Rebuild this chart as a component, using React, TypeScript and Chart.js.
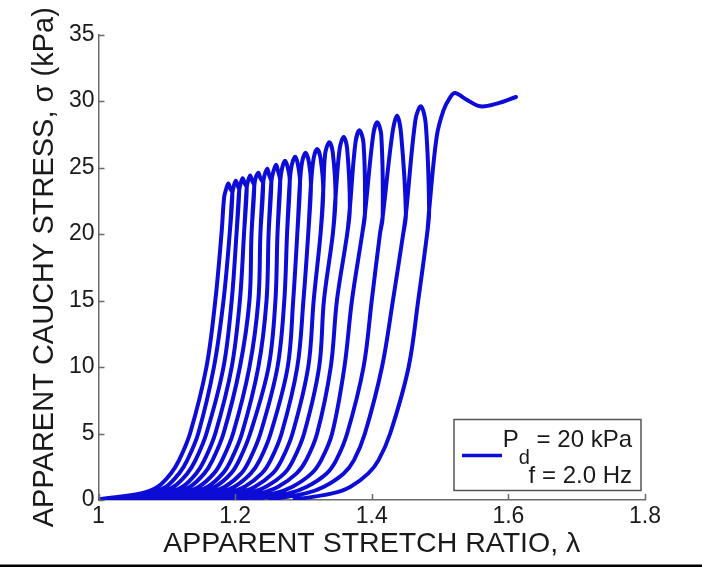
import React, { useEffect, useRef } from 'react';
import { Chart, registerables } from 'chart.js';

Chart.register(...registerables);

// ---------- data ----------
// stress levels (kPa) at which every loading / unloading branch was read
const STRESS_LEVELS = [0.05, 0.5, 1, 2, 3, 5, 10, 15, 20];

// stretch ratio of each of the 18 branches at those stress levels
const LINE_X_FOOT = [1.000, 1.016, 1.027, 1.040, 1.052, 1.066, 1.078, 1.090, 1.104, 1.119, 1.134, 1.149, 1.166, 1.184, 1.205, 1.226, 1.251, 1.287];
const LINE_X_S05 = [1.062, 1.073, 1.085, 1.097, 1.108, 1.121, 1.133, 1.144, 1.158, 1.172, 1.187, 1.202, 1.218, 1.236, 1.257, 1.278, 1.303, 1.342];
const LINE_X_S1 = [1.087, 1.099, 1.110, 1.123, 1.134, 1.147, 1.160, 1.171, 1.185, 1.199, 1.214, 1.229, 1.245, 1.263, 1.284, 1.305, 1.330, 1.369];
const LINE_X_S2 = [1.106, 1.118, 1.130, 1.143, 1.155, 1.169, 1.182, 1.194, 1.209, 1.223, 1.239, 1.255, 1.272, 1.290, 1.312, 1.334, 1.359, 1.395];
const LINE_X_S3 = [1.118, 1.130, 1.142, 1.155, 1.167, 1.181, 1.194, 1.206, 1.221, 1.236, 1.252, 1.268, 1.285, 1.304, 1.326, 1.348, 1.374, 1.410];
const LINE_X_S5 = [1.134, 1.146, 1.158, 1.171, 1.183, 1.197, 1.210, 1.222, 1.237, 1.252, 1.268, 1.284, 1.301, 1.320, 1.342, 1.364, 1.390, 1.427];
const LINE_X_S10 = [1.158, 1.169, 1.183, 1.195, 1.207, 1.221, 1.234, 1.249, 1.262, 1.277, 1.291, 1.307, 1.323, 1.340, 1.360, 1.388, 1.415, 1.454];
const LINE_X_S15 = [1.171, 1.183, 1.195, 1.207, 1.221, 1.234, 1.246, 1.259, 1.272, 1.285, 1.300, 1.315, 1.330, 1.349, 1.371, 1.400, 1.431, 1.468];
const LINE_X_S20 = [1.180, 1.192, 1.202, 1.213, 1.224, 1.237, 1.249, 1.262, 1.276, 1.291, 1.307, 1.325, 1.343, 1.364, 1.386, 1.412, 1.446, 1.481];

// top of each branch (notch where neighbouring cycles meet)
const TOP_X = [1.184, 1.196, 1.206, 1.217, 1.228, 1.241, 1.253, 1.266, 1.280, 1.295, 1.311, 1.329, 1.347, 1.368, 1.390, 1.416, 1.450, 1.484];
const TOP_Y = [22.8, 23.1, 23.3, 23.5, 23.6, 23.8, 23.9, 24.0, 24.0, 23.9, 23.7, 23.3, 22.8, 22.0, 21.5, 21.3, 21.5, 21.8];

// shoulders and peak of each loading cycle
const LEFT_SH_X = [1.187, 1.198, 1.208, 1.219, 1.230, 1.243, 1.256, 1.269, 1.283, 1.298, 1.315, 1.332, 1.353, 1.376, 1.402, 1.430, 1.464];
const LEFT_SH_Y = [23.4, 23.6, 23.8, 24.0, 24.2, 24.4, 24.7, 25.0, 25.2, 25.4, 25.7, 26.1, 26.4, 26.8, 27.4, 27.5, 28.6];
const PEAK_X = [1.190, 1.201, 1.211, 1.222, 1.234, 1.247, 1.260, 1.273, 1.288, 1.303, 1.320, 1.338, 1.359, 1.382, 1.408, 1.437, 1.472];
const PEAK_Y = [23.8, 24.0, 24.2, 24.4, 24.6, 24.9, 25.2, 25.5, 25.8, 26.1, 26.4, 26.9, 27.3, 27.8, 28.4, 28.9, 29.6];
const RIGHT_SH_X = [1.193, 1.204, 1.214, 1.225, 1.237, 1.250, 1.263, 1.277, 1.292, 1.308, 1.325, 1.343, 1.364, 1.388, 1.414, 1.443, 1.479];
const RIGHT_SH_Y = [23.4, 23.6, 23.8, 24.0, 24.2, 24.4, 24.7, 25.0, 25.2, 25.4, 25.7, 26.1, 26.4, 26.8, 27.4, 27.5, 28.3];

// last loading, overshoot and settling
const FINAL_X = [1.495, 1.505, 1.515, 1.522, 1.539, 1.559, 1.583, 1.611];
const FINAL_Y = [27.3, 29.3, 30.3, 30.6, 30.1, 29.6, 29.8, 30.3];

const X_MIN = 1;
const X_MAX = 1.8;
const X_STEP = 0.2;
const Y_MIN = 0;
const Y_MAX = 35;
const Y_STEP = 5;

const X_TITLE = 'APPARENT STRETCH RATIO, λ';
const Y_TITLE = 'APPARENT CAUCHY STRESS, σ (kPa)';
const LEGEND_P = 'P';
const LEGEND_SUB = 'd';
const LEGEND_LINE1_REST = ' = 20 kPa';
const LEGEND_LINE2 = 'f = 2.0 Hz';

// ---------- styles ----------
const FONT = '"Liberation Sans", Arial, Helvetica, sans-serif';
const LINE_COLOR = '#0c0cd6';
const AXIS_COLOR = '#6a6a6a';
const TEXT_COLOR = '#1a1a1a';

const LEVEL_X = [LINE_X_FOOT, LINE_X_S05, LINE_X_S1, LINE_X_S2, LINE_X_S3, LINE_X_S5, LINE_X_S10, LINE_X_S15, LINE_X_S20];

function branch(j: number) {
  return STRESS_LEVELS.map((s, k) => ({ x: LEVEL_X[k][j], y: s }));
}

function buildPath() {
  const pts: { x: number; y: number }[] = [];
  pts.push(...branch(0));
  pts.push({ x: TOP_X[0], y: TOP_Y[0] });
  for (let j = 0; j < PEAK_X.length; j++) {
    pts.push({ x: LEFT_SH_X[j], y: LEFT_SH_Y[j] });
    pts.push({ x: PEAK_X[j], y: PEAK_Y[j] });
    pts.push({ x: RIGHT_SH_X[j], y: RIGHT_SH_Y[j] });
    const n = j + 1;
    pts.push({ x: TOP_X[n], y: TOP_Y[n] });
    const up = branch(n);
    pts.push(...up.slice().reverse());
    pts.push(...up.slice(1));
    pts.push({ x: TOP_X[n], y: TOP_Y[n] });
  }
  FINAL_X.forEach((x, i) => pts.push({ x, y: FINAL_Y[i] }));
  return pts;
}

const overlayPlugin = {
  id: 'matlabOverlay',
  afterDraw(chart: any) {
    const { ctx, chartArea } = chart;
    const xs = chart.scales.x;
    const ys = chart.scales.y;
    ctx.save();
    // inward tick marks
    ctx.strokeStyle = AXIS_COLOR;
    ctx.lineWidth = 1.5;
    ctx.beginPath();
    xs.ticks.forEach((t: any) => {
      const px = Math.round(xs.getPixelForValue(t.value)) + 0.5;
      ctx.moveTo(px, chartArea.bottom);
      ctx.lineTo(px, chartArea.bottom - 6);
    });
    ys.ticks.forEach((t: any) => {
      const py = Math.round(ys.getPixelForValue(t.value)) + 0.5;
      ctx.moveTo(chartArea.left, py);
      ctx.lineTo(chartArea.left + 6, py);
    });
    ctx.stroke();

    // legend box
    const boxR = chartArea.right - 4;
    const boxB = chartArea.bottom - 9.5;
    const boxW = 187;
    const boxH = 71;
    const boxL = boxR - boxW;
    const boxT = boxB - boxH;
    ctx.fillStyle = '#ffffff';
    ctx.fillRect(boxL, boxT, boxW, boxH);
    ctx.strokeStyle = '#555555';
    ctx.lineWidth = 1.5;
    ctx.strokeRect(boxL, boxT, boxW, boxH);

    // legend sample line
    ctx.strokeStyle = LINE_COLOR;
    ctx.lineWidth = 3.5;
    ctx.beginPath();
    ctx.moveTo(boxL + 8, boxT + 36);
    ctx.lineTo(boxL + 48, boxT + 36);
    ctx.stroke();

    // legend text
    const textR = boxR - 9;
    ctx.fillStyle = TEXT_COLOR;
    ctx.textBaseline = 'alphabetic';
    ctx.textAlign = 'left';
    const mainFont = `24px ${FONT}`;
    const subFont = `20px ${FONT}`;
    ctx.font = mainFont;
    const wP = ctx.measureText(LEGEND_P).width;
    const wRest = ctx.measureText(LEGEND_LINE1_REST).width;
    ctx.font = subFont;
    const wSub = ctx.measureText(LEGEND_SUB).width;
    let cx = textR - (wP + wSub + wRest);
    const base1 = boxT + 27;
    ctx.font = mainFont;
    ctx.fillText(LEGEND_P, cx, base1);
    cx += wP;
    ctx.font = subFont;
    ctx.fillText(LEGEND_SUB, cx, base1 + 17);
    cx += wSub;
    ctx.font = mainFont;
    ctx.fillText(LEGEND_LINE1_REST, cx, base1);
    ctx.textAlign = 'right';
    ctx.fillText(LEGEND_LINE2, textR, boxT + 63);

    // black rule at the bottom of the figure
    ctx.fillStyle = '#000000';
    ctx.fillRect(0, 564.5, chart.width, 2.5);
    ctx.restore();
  },
};

export default function App() {
  const canvasRef = useRef<HTMLCanvasElement | null>(null);

  useEffect(() => {
    const canvas = canvasRef.current;
    if (!canvas) return;
    const chart = new Chart(canvas, {
      type: 'scatter',
      data: {
        datasets: [
          {
            data: buildPath(),
            showLine: true,
            borderColor: LINE_COLOR,
            backgroundColor: LINE_COLOR,
            borderWidth: 4,
            pointRadius: 0,
            tension: 0.35,
            borderJoinStyle: 'round',
            borderCapStyle: 'round',
          },
        ],
      },
      options: {
        animation: false,
        responsive: false,
        devicePixelRatio: 1,
        layout: { padding: { top: 34.5, right: 57, bottom: 0, left: 0 } },
        plugins: { legend: { display: false }, tooltip: { enabled: false } },
        scales: {
          x: {
            type: 'linear',
            min: X_MIN,
            max: X_MAX,
            afterFit: (s: any) => {
              s.height = 71;
            },
            ticks: {
              stepSize: X_STEP,
              padding: 3,
              color: TEXT_COLOR,
              font: { family: FONT, size: 23 },
              callback: (v: any) => String(Number(Number(v).toFixed(1))),
              maxRotation: 0,
            },
            grid: { display: false, drawTicks: false },
            border: { display: true, color: AXIS_COLOR, width: 1.5 },
            title: {
              display: true,
              text: X_TITLE,
              color: TEXT_COLOR,
              font: { family: FONT, size: 28.5 },
              padding: { top: 0, bottom: 10 },
            },
          },
          y: {
            type: 'linear',
            min: Y_MIN,
            max: Y_MAX,
            afterFit: (s: any) => {
              s.width = 98.5;
            },
            ticks: {
              stepSize: Y_STEP,
              padding: 4,
              color: TEXT_COLOR,
              font: { family: FONT, size: 23 },
            },
            grid: { display: false, drawTicks: false },
            border: { display: true, color: AXIS_COLOR, width: 1.5 },
            title: {
              display: true,
              text: Y_TITLE,
              color: TEXT_COLOR,
              font: { family: FONT, size: 29 },
              padding: { top: 28, bottom: 0 },
            },
          },
        },
      },
      plugins: [overlayPlugin],
    } as any);
    return () => chart.destroy();
  }, []);

  return (
    <div style={{ position: 'absolute', left: 0, top: 0, width: 702, height: 571, background: '#fff' }}>
      <canvas ref={canvasRef} width={702} height={571} style={{ display: 'block' }} />
    </div>
  );
}
